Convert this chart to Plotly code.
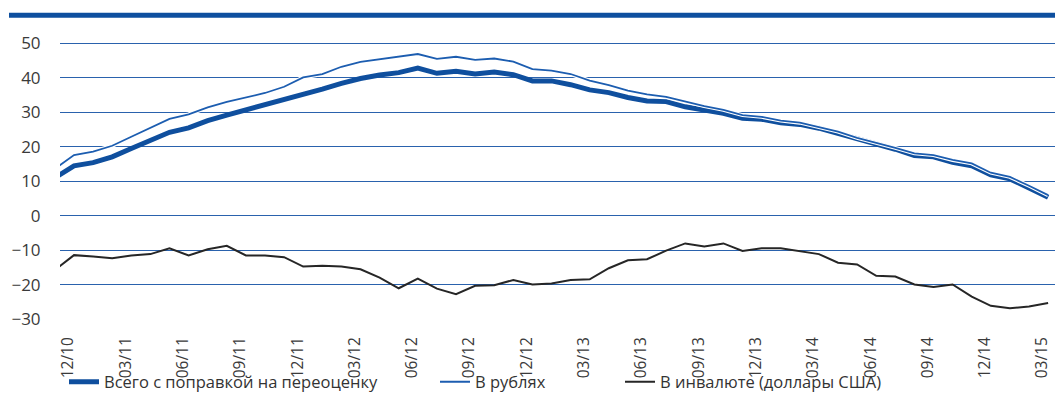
import plotly.graph_objects as go

# Month labels for tick marks (every 3 months)
tick_labels = ["12/10", "03/11", "06/11", "09/11", "12/11", "03/12", "06/12", "09/12", "12/12",
               "03/13", "06/13", "09/13", "12/13", "03/14", "06/14", "09/14", "12/14", "03/15"]

# Monthly observations, 11/10 ... 03/15 (53 months)
total_reval = [11.0, 14.5, 15.4, 17.1, 19.5, 21.8, 24.2, 25.5, 27.6, 29.2, 30.7, 32.0, 33.8,
               35.3, 36.7, 38.4, 39.8, 40.8, 41.5, 42.8, 41.3, 41.9, 41.1, 41.7, 40.9, 39.1,
               39.1, 38.0, 36.5, 35.7, 34.3, 33.3, 33.1, 31.6, 30.6, 29.7, 28.3, 28.0, 27.0,
               26.5, 25.4, 23.9, 22.2, 20.7, 19.3, 17.5, 17.1, 15.5, 14.5, 11.9, 10.7, 8.1, 5.4]
rubles = [13.6, 17.6, 18.6, 20.3, 22.9, 25.4, 28.1, 29.4, 31.4, 33.0, 34.3, 35.6, 37.4,
          40.1, 41.1, 43.2, 44.6, 45.4, 46.3, 46.9, 45.5, 46.1, 45.2, 45.6, 44.7, 42.5,
          42.1, 41.1, 39.2, 37.9, 36.3, 35.2, 34.5, 33.1, 31.8, 30.7, 29.2, 28.7, 27.6,
          27.0, 25.8, 24.4, 22.6, 21.2, 19.7, 18.1, 17.6, 16.2, 15.2, 12.5, 11.3, 8.7, 6.0]
fx_usd = [-15.7, -11.4, -11.8, -12.3, -11.5, -11.1, -9.4, -11.5, -9.7, -8.7, -11.5, -11.5, -12.0,
          -14.7, -14.5, -14.7, -15.5, -17.9, -21.0, -18.2, -21.1, -22.7, -20.3, -20.1, -18.6, -19.9,
          -19.6, -18.6, -18.4, -15.2, -12.9, -12.6, -10.1, -8.0, -8.9, -8.0, -10.2, -9.4, -9.4,
          -10.2, -11.1, -13.6, -14.1, -17.4, -17.6, -19.9, -20.6, -19.9, -23.4, -26.1, -26.8, -26.3, -25.3]

series_names = ["Всего с поправкой на переоценку", "В рублях", "В инвалюте (доллары США)"]

x = list(range(len(total_reval)))
# month index of each labelled tick (12/10 is month 1), slightly shifted as in the original
tick_pos = [1 + 3 * k - 0.3 for k in range(len(tick_labels))]

BLUE_DARK = "#0f4f9e"
BLUE = "#1c5db0"
GRID = "#2a62ad"
TEXT = "#3a3a3a"
FONT = "Open Sans"

fig = go.Figure()
fig.add_trace(go.Scatter(x=x, y=fx_usd, mode="lines", name=series_names[2],
                         line=dict(color="#262626", width=2), legend="legend3"))
fig.add_trace(go.Scatter(x=x, y=total_reval, mode="lines", name=series_names[0],
                         line=dict(color=BLUE_DARK, width=5), legend="legend"))
fig.add_trace(go.Scatter(x=x, y=rubles, mode="lines", showlegend=False, hoverinfo="skip",
                         line=dict(color="white", width=4)))
fig.add_trace(go.Scatter(x=x, y=rubles, mode="lines", name=series_names[1],
                         line=dict(color=BLUE, width=1.8), legend="legend2"))

W, H = 1055, 414
ML, MR, MT, MB = 60, 0, 42, 94
pw = W - ML - MR
ph = H - MT - MB

def cx(p):
    return p / W

def cy(p):
    return 1 - p / H

def px_x(p):
    return (p - ML) / pw

def px_y(p):
    return 1 - (p - MT) / ph

leg_common = dict(orientation="h", yanchor="middle", xanchor="left",
                  xref="container", yref="container",
                  font=dict(family=FONT, size=16.5, color="#333333"),
                  bgcolor="rgba(0,0,0,0)", borderwidth=0, y=cy(382))

fig.update_layout(
    width=W, height=H, autosize=False,
    margin=dict(l=ML, r=MR, t=MT, b=MB, autoexpand=False),
    paper_bgcolor="white", plot_bgcolor="white",
    showlegend=True,
    legend=dict(x=cx(64), **leg_common),
    legend2=dict(x=cx(435), **leg_common),
    legend3=dict(x=cx(620), **leg_common),
    xaxis=dict(range=[0.267, 52.36], tickmode="array", tickvals=tick_pos, ticktext=tick_labels,
               tickangle=-90, showgrid=False, zeroline=False, showline=False, automargin=False,
               ticks="outside", ticklen=10, tickcolor="rgba(0,0,0,0)",
               tickfont=dict(family=FONT, size=15.5, color=TEXT)),
    yaxis=dict(range=[-30.2, 50.38], tickmode="linear", tick0=0, dtick=10, automargin=False,
               showgrid=True, gridcolor=GRID, gridwidth=1, zeroline=False, showline=False,
               ticks="outside", ticklen=15, tickcolor="rgba(0,0,0,0)",
               tickfont=dict(family=FONT, size=17, color=TEXT)),
    shapes=[dict(type="rect", xref="paper", yref="paper",
                 x0=px_x(9), x1=1.0, y0=px_y(17.8), y1=px_y(12.8),
                 fillcolor="#0e4f9f", line=dict(width=0), layer="above")],
)

fig.write_html("out.html", config={"displayModeBar": False},
               post_script="document.body.style.margin='0';document.body.style.overflow='hidden';")
